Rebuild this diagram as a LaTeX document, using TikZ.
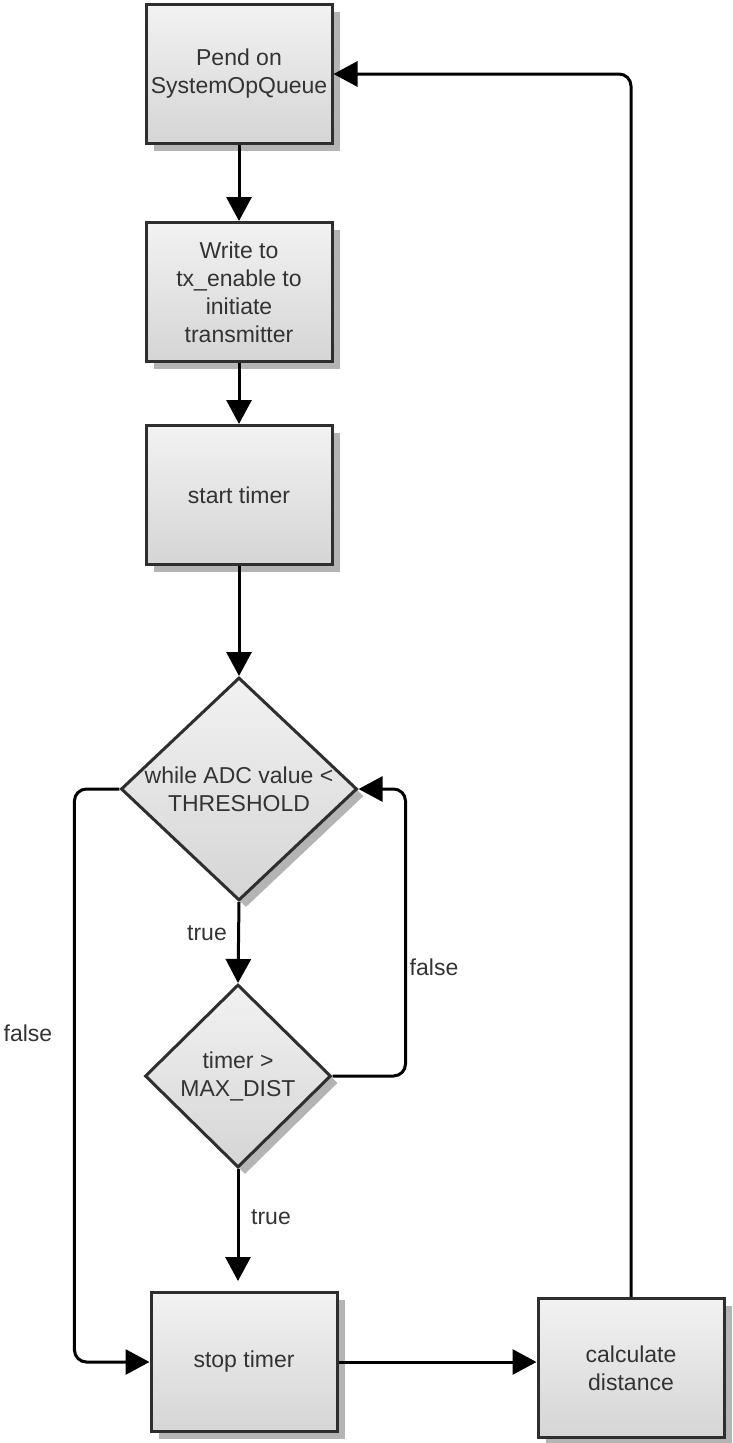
\documentclass[tikz,border=0pt]{standalone}
\usepackage{fontspec}
\setmainfont{Liberation Sans}
\usetikzlibrary{arrows.meta,shapes.geometric,shadows}
\definecolor{txt}{HTML}{333333}
\definecolor{bord}{HTML}{2E2E2E}
\definecolor{shd}{HTML}{B4B4B4}
\definecolor{boxtop}{HTML}{F2F2F2}
\definecolor{boxbot}{HTML}{D5D5D5}
\begin{document}
\begin{tikzpicture}[x=1pt,y=-1pt,
  base/.style={draw=bord, line width=3pt, top color=boxtop, bottom color=boxbot,
    align=center, font=\fontsize{23}{28}\selectfont, text=txt, inner sep=0pt},
  procbox/.style={base, rectangle, minimum width=186pt, minimum height=139pt,
    drop shadow={shadow xshift=8pt, shadow yshift=-7pt, fill=shd, opacity=1}},
  decision/.style={base, diamond,
    drop shadow={shadow xshift=7pt, shadow yshift=-7pt, fill=shd, opacity=1}},
  conn/.style={line width=3pt, black, rounded corners=12pt},
  arr/.style={conn, -{Triangle[width=25pt,length=24pt]}},
  lbl/.style={font=\fontsize{23}{28}\selectfont, text=txt}]
\useasboundingbox (0,0) rectangle (733,1443);

\node[procbox] (b1) at (239,74) {Pend on\\SystemOpQueue};
\node[procbox] (b2) at (239,292) {Write to\\tx\_enable to\\initiate\\transmitter};
\node[procbox] (b3) at (239,495) {start timer};
\node[decision, aspect=1.06, minimum width=236pt, minimum height=223pt] (d1) at (239,789) {while ADC value <\\THRESHOLD};
\node[decision, minimum width=186pt, minimum height=183pt] (d2) at (238,1076) {timer >\\MAX\_DIST};
\node[procbox] (b4) at (244,1362) {stop timer};
\node[procbox] (b5) at (631,1368) {calculate\\distance};

\coordinate (t4) at (238,1281);

\draw[arr] (b1.south) -- (b2.north);
\draw[arr] (b2.south) -- (b3.north);
\draw[arr] (b3.south) -- (d1.north);
\draw[arr] (d1.south) -- (d2.north);
\draw[arr] (d2.south) -- (t4);
\draw[arr] (d1.west) -- ++(-45,0) |- (b4.west);
\draw[arr] (d2.east) -- ++(73,0) |- (d1.east);
\draw[arr] (b4.east) -- (b4.east -| b5.west);
\draw[arr] (b5.north) |- (b1.east);

\node[lbl] (l1) at (207,933) {true};
\node[lbl] (l2) at (434,967) {false};
\node[lbl] (l3) at (28,1033) {false};
\node[lbl] (l4) at (271,1217) {true};
\end{tikzpicture}
\end{document}
